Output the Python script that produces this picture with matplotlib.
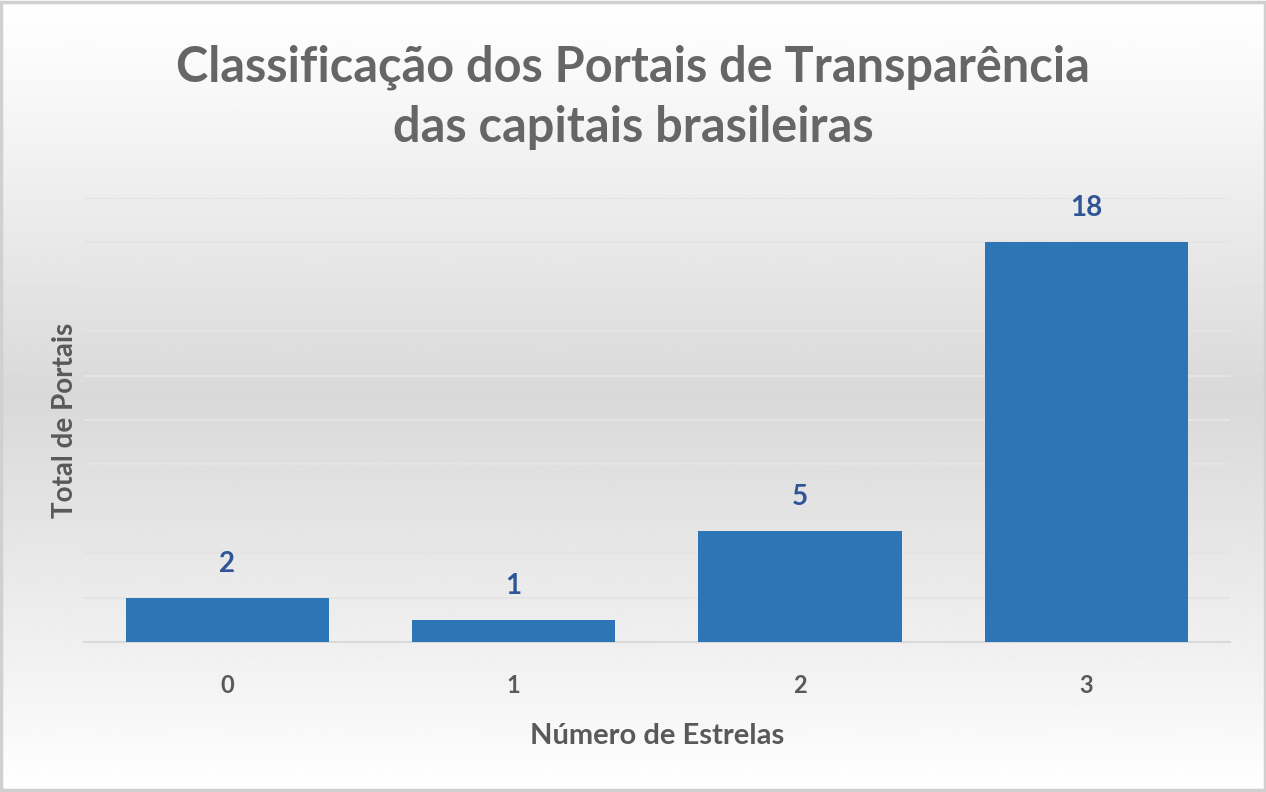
import numpy as np
import matplotlib.pyplot as plt
from matplotlib.patches import Rectangle

estrelas = ['0', '1', '2', '3']
portais = [2, 1, 5, 18]

titulo = 'Classificação dos Portais de Transparência\ndas capitais brasileiras'

plt.rcParams['font.family'] = ['Lato', 'DejaVu Sans']
plt.rcParams['font.weight'] = 'bold'

fig = plt.figure(figsize=(12.66, 7.92), dpi=100)

# fundo em degradê vertical
bg = fig.add_axes([0, 0, 1, 1], zorder=-1)
yy = np.linspace(0, 1, 400)
g = np.interp(yy, [0, 0.12, 0.5, 0.85, 1], [1.0, 0.97, 0.85, 0.95, 1.0])
bg.imshow(np.tile(g[:, None], (1, 10)), cmap='gray', vmin=0, vmax=1,
          aspect='auto', extent=[0, 1, 1, 0])
bg.set_xlim(0, 1)
bg.set_ylim(1, 0)
bg.axis('off')
fig.patches.append(Rectangle((0.001, 0.002), 0.998, 0.996, transform=fig.transFigure,
                             fill=False, edgecolor='#d0d0d0', linewidth=2.5))

ax = fig.add_axes([0.0664, 0.1894, 0.905, 0.5606])
ax.patch.set_alpha(0)
x = np.arange(len(estrelas))
bars = ax.bar(x, portais, width=0.71, color='#2E75B6', zorder=3)
for b, v in zip(bars, portais):
    ax.text(b.get_x() + b.get_width() / 2, v + 0.95, str(v), ha='center', va='bottom',
            fontsize=20, fontweight='bold', color='#2F5597')

ax.set_xlim(-0.5, 3.5)
ax.set_ylim(0, 20)
ax.set_yticks(np.arange(0, 21, 2))
ax.set_yticklabels([])
ax.tick_params(axis='y', length=0)
ax.set_xticks(x)
ax.set_xticklabels(estrelas, fontsize=17, fontweight='bold', color='#595959')
ax.tick_params(axis='x', length=0, pad=23)
ax.grid(axis='y', color='#e4e4e4', linewidth=1.5, zorder=0)
for s in ['top', 'right', 'left']:
    ax.spines[s].set_visible(False)
ax.spines['bottom'].set_color('#d9d9d9')
ax.spines['bottom'].set_linewidth(1.5)

ax.set_xlabel('Número de Estrelas', fontsize=21, fontweight='bold', color='#595959', labelpad=19)
ax.set_ylabel('Total de Portais', fontsize=20, fontweight='bold', color='#595959', labelpad=1)

fig.text(0.5, 0.877, titulo, ha='center', va='center', fontsize=35, fontweight='bold',
         color='#666666', linespacing=1.4)

fig.savefig('out.png', dpi=100)
